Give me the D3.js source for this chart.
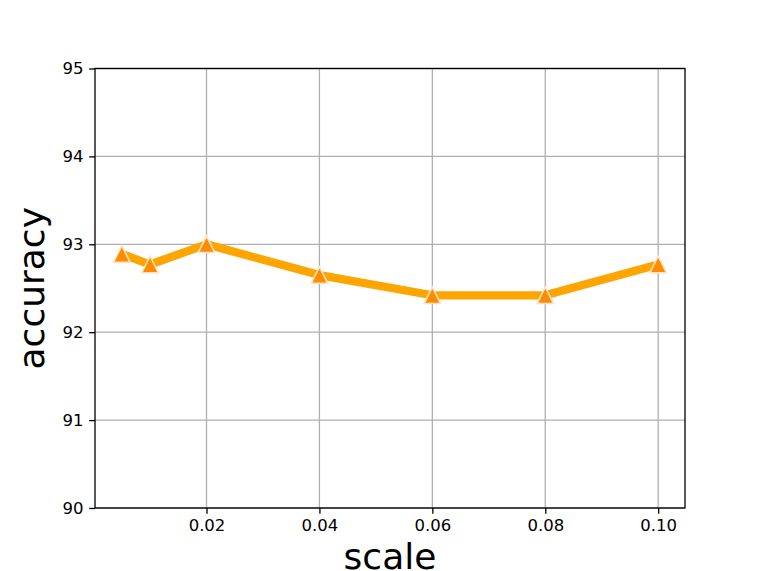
<!DOCTYPE html>
<html><head><meta charset="utf-8">
<script src="https://cdn.jsdelivr.net/npm/d3@7"></script>
<style>body{margin:0;background:#fff}svg{display:block}text{font-family:"DejaVu Sans",sans-serif}</style>
</head><body>
<svg id="c" width="761" height="571"></svg>
<script>
const scales = [0.005, 0.01, 0.02, 0.04, 0.06, 0.08, 0.10];
const accuracy = [92.89, 92.77, 93.0, 92.65, 92.42, 92.42, 92.77];
const xTicks = [0.02, 0.04, 0.06, 0.08, 0.10];
const yTicks = [90, 91, 92, 93, 94, 95];

const svg = d3.select("#c");
const L = 95, R = 685, T = 68.5, B = 508;
const x = d3.scaleLinear().domain([0.00025, 0.10475]).range([L, R]);
const y = d3.scaleLinear().domain([90, 95]).range([B, T]);

// grid
svg.append("g").selectAll("line").data(xTicks).join("line")
  .attr("x1", d => x(d)).attr("x2", d => x(d)).attr("y1", T).attr("y2", B)
  .attr("stroke", "#b0b0b0").attr("stroke-width", 1.3);
svg.append("g").selectAll("line").data(yTicks).join("line")
  .attr("x1", L).attr("x2", R).attr("y1", d => y(d)).attr("y2", d => y(d))
  .attr("stroke", "#b0b0b0").attr("stroke-width", 1.3);

// line
svg.append("path").datum(scales.map((s, i) => [s, accuracy[i]]))
  .attr("fill", "none").attr("stroke", "#ffa500").attr("stroke-width", 8.3)
  .attr("stroke-linejoin", "round")
  .attr("d", d3.line().x(d => x(d[0])).y(d => y(d[1])));

// markers
const ms = 16.5;
svg.append("g").selectAll("path").data(scales.map((s, i) => [s, accuracy[i]])).join("path")
  .attr("transform", d => `translate(${x(d[0])},${y(d[1])})`)
  .attr("d", `M0,${-ms/2}L${ms/2},${ms/2}L${-ms/2},${ms/2}Z`)
  .attr("fill", "#ff8c00").attr("stroke", "#ffe4c4").attr("stroke-width", 1.6)
  .attr("stroke-linejoin", "miter");

// axes
const xa = svg.append("g").attr("transform", `translate(0,${B})`)
  .call(d3.axisBottom(x).tickValues(xTicks).tickFormat(d3.format(".2f")).tickSize(5.8).tickPadding(5.8));
const ya = svg.append("g").attr("transform", `translate(${L},0)`)
  .call(d3.axisLeft(y).tickValues(yTicks).tickFormat(d3.format("d")).tickSize(5.8).tickPadding(5.8));
[xa, ya].forEach(a => {
  a.attr("font-size", 16.5).attr("font-family", "DejaVu Sans");
  a.select(".domain").remove();
  a.selectAll("text").attr("font-size", 16.5).attr("fill", "#000");
  a.selectAll("line").attr("stroke", "#000").attr("stroke-width", 1.3);
});

svg.append("rect").attr("x", L).attr("y", T).attr("width", R - L).attr("height", B - T)
  .attr("fill", "none").attr("stroke", "#000").attr("stroke-width", 1.3);

svg.append("text").attr("x", (L + R) / 2).attr("y", 569).attr("text-anchor", "middle")
  .attr("font-size", 36).attr("fill", "#000").text("scale");
svg.append("text").attr("transform", `translate(44,${(T + B) / 2}) rotate(-90)`)
  .attr("text-anchor", "middle").attr("font-size", 36).attr("fill", "#000").text("accuracy");
</script>
</body></html>
